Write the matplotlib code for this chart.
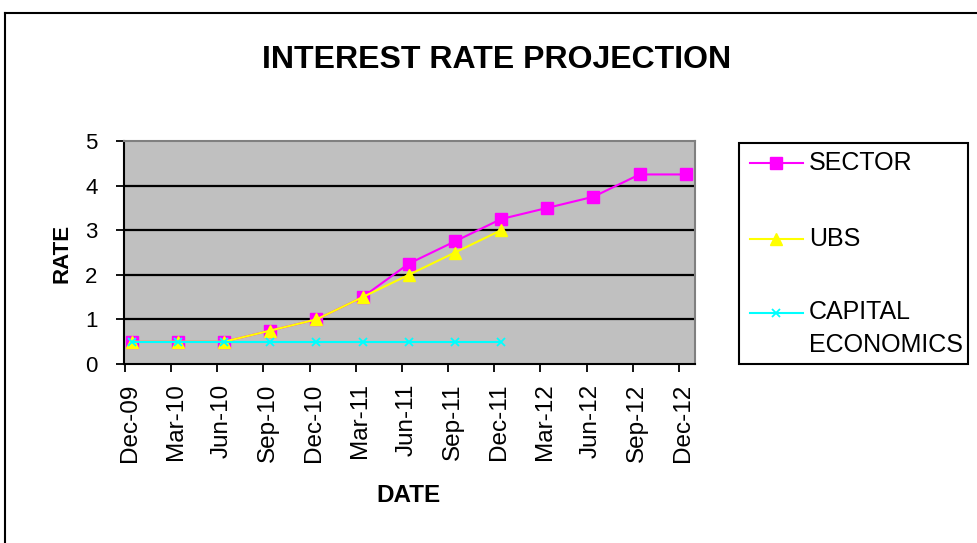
import matplotlib
matplotlib.use("Agg")
import matplotlib.pyplot as plt
from matplotlib.lines import Line2D
from matplotlib.patches import Rectangle

plt.rcParams['font.family'] = ['Liberation Sans', 'DejaVu Sans']

dates = ["Dec-09", "Mar-10", "Jun-10", "Sep-10", "Dec-10", "Mar-11", "Jun-11",
         "Sep-11", "Dec-11", "Mar-12", "Jun-12", "Sep-12", "Dec-12"]
sector = [0.5, 0.5, 0.5, 0.75, 1.0, 1.5, 2.25, 2.75, 3.25, 3.5, 3.75, 4.25, 4.25]
ubs = [0.5, 0.5, 0.5, 0.75, 1.0, 1.5, 2.0, 2.5, 3.0]
capital = [0.5, 0.5, 0.5, 0.5, 0.5, 0.5, 0.5, 0.5, 0.5]
yticks = [0, 1, 2, 3, 4, 5]

W, H = 977, 543
fig = plt.figure(figsize=(W / 100, H / 100), dpi=100)

def fx(px):
    return px / W

def fy(py):
    return 1 - py / H

ax = fig.add_axes([fx(124), fy(364), fx(695) - fx(124), fy(141) - fy(364)])
ax.set_facecolor('#C0C0C0')

x_all = list(range(len(dates)))
l1, = ax.plot(x_all, sector, color='#FF00FF', lw=1.5, marker='s', ms=8.5,
              mfc='#FF00FF', mec='#FF00FF', zorder=3)
l2, = ax.plot(x_all[:len(ubs)], ubs, color='#FFFF00', lw=1.5, marker='^', ms=9,
              mfc='#FFFF00', mec='#FFFF00', zorder=4)
l3, = ax.plot(x_all[:len(capital)], capital, color='#00FFFF', lw=1.5, marker='x', ms=6,
              mew=1.3, mfc='#00FFFF', mec='#00FFFF', zorder=5)

ax.set_xlim(-0.17, len(dates) - 1 + 0.2)
ax.set_ylim(yticks[0], yticks[-1])

# tick marks (between-category style, slightly left of points)
ax.set_xticks([i - 0.15 for i in x_all])
ax.set_xticklabels([])
ax.set_xticks([i - 0.05 for i in x_all], dates, minor=True)
ax.tick_params(axis='x', which='major', length=6, width=1.3, direction='out', color='black')
ax.tick_params(axis='x', which='minor', length=0, pad=14, labelsize=17.5, labelrotation=90)

ax.set_yticks(yticks)
ax.set_yticklabels([str(v) for v in yticks])
ax.tick_params(axis='y', length=6, width=1.3, direction='out', pad=13, labelsize=16)

ax.yaxis.grid(True, color='black', lw=1.6)
ax.xaxis.grid(False)
gl = ax.yaxis.get_gridlines()
gl[0].set_visible(False)
gl[-1].set_visible(False)
ax.set_axisbelow(True)

for s in ['left', 'bottom']:
    ax.spines[s].set_color('black')
    ax.spines[s].set_linewidth(1.5)
for s in ['top', 'right']:
    ax.spines[s].set_color('#808080')
    ax.spines[s].set_linewidth(1.5)

# titles
fig.text(fx(497), fy(60), "INTEREST RATE PROJECTION", ha='center', va='center',
         fontsize=23, fontweight='bold')
fig.text(fx(62), fy(253), "RATE", ha='center', va='center', rotation=90,
         fontsize=16, fontweight='bold')
fig.text(fx(408), fy(495), "DATE", ha='center', va='center',
         fontsize=17.5, fontweight='bold')

# legend box
fig.add_artist(Rectangle((fx(739), fy(364)), fx(968) - fx(739), fy(143) - fy(364),
                         transform=fig.transFigure, fill=False, ec='black', lw=1.5))
entries = [(l1, "SECTOR", 163), (l2, "UBS", 239), (l3, "CAPITAL\nECONOMICS", 313)]
for line, label, py in entries:
    fig.add_artist(Line2D([fx(750), fx(803)], [fy(py), fy(py)], transform=fig.transFigure,
                          color=line.get_color(), lw=1.5))
    fig.add_artist(Line2D([fx(776)], [fy(py)], transform=fig.transFigure,
                          marker=line.get_marker(), ms=line.get_markersize(),
                          mfc=line.get_mfc(), mec=line.get_mec(), mew=line.get_mew(),
                          linestyle='none'))
    if '\n' in label:
        fig.text(fx(809), fy(py - 13), label, ha='left', va='top', fontsize=18,
                 linespacing=1.45)
    else:
        fig.text(fx(809), fy(py), label, ha='left', va='center', fontsize=18)

# outer chart border
fig.add_artist(Line2D([fx(5), fx(5)], [fy(13), 0], transform=fig.transFigure,
                      color='black', lw=1.5))
fig.add_artist(Line2D([fx(5), 1], [fy(13), fy(13)], transform=fig.transFigure,
                      color='black', lw=1.5))

fig.savefig("out.png", dpi=100, facecolor='white')
